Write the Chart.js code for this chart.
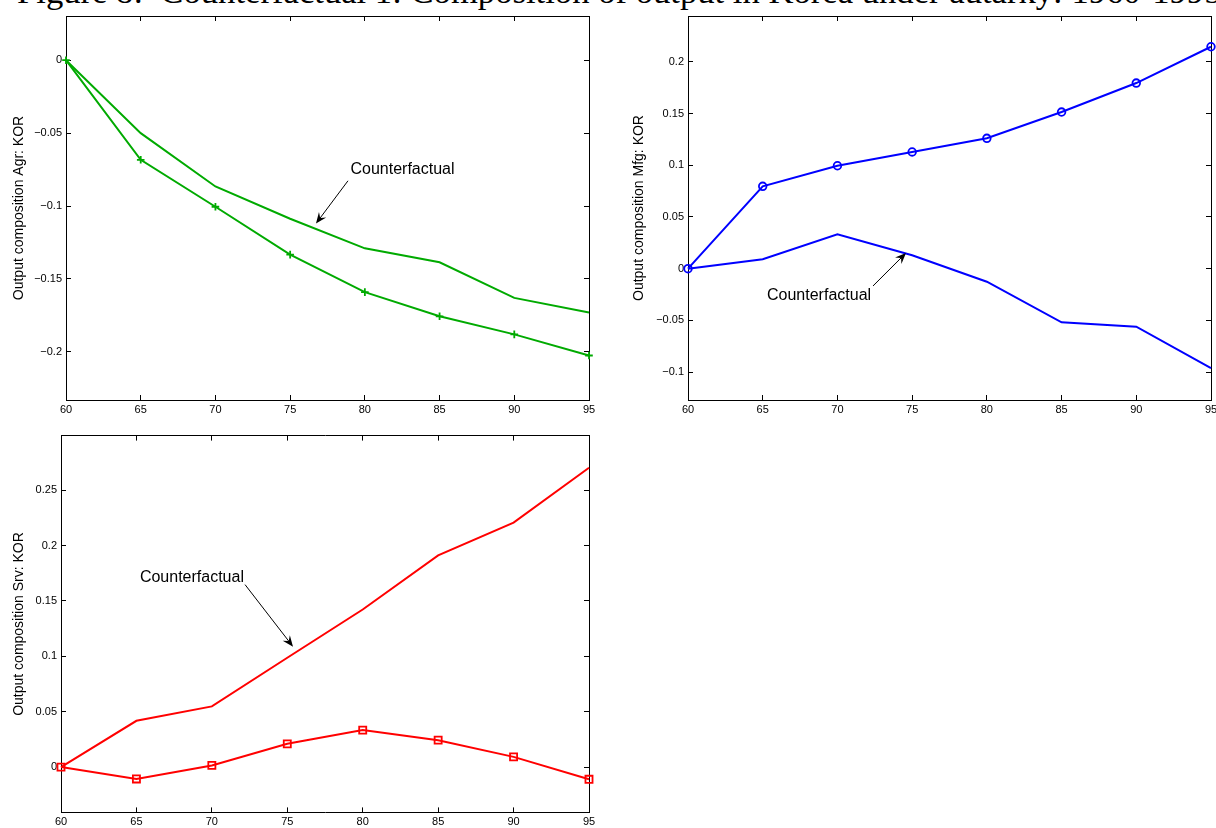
<!DOCTYPE html>
<html><head><meta charset="utf-8">
<script src="https://cdn.jsdelivr.net/npm/chart.js@4.4.1/dist/chart.umd.min.js"></script>
<style>
html,body{margin:0;padding:0;background:#fff;overflow:hidden;width:1216px;height:828px;position:relative;}
#title{position:absolute;left:17px;top:-16px;white-space:nowrap;font-family:"Liberation Serif","DejaVu Serif",serif;color:#000;font-size:27px;line-height:27px;}
.box{position:absolute;}
canvas{display:block;}
</style></head><body>
<div id="title">Figure 8:&nbsp; Counterfactual 1: Composition of output in Korea under autarky: 1960-1995</div>
<div class="box" style="left:0;top:0;"><canvas id="agr" width="610" height="425"></canvas></div>
<div class="box" style="left:620px;top:0;"><canvas id="mfg" width="620" height="425"></canvas></div>
<div class="box" style="left:0;top:420px;"><canvas id="srv" width="610" height="408"></canvas></div>
<script>
// ---- data ----
const years = [60, 65, 70, 75, 80, 85, 90, 95];
const xTicks = [60, 65, 70, 75, 80, 85, 90, 95];

const agrActual  = [0, -0.0683, -0.1005, -0.1333, -0.159, -0.1756, -0.188, -0.2025];
const agrCounter = [0, -0.050, -0.0866, -0.1087, -0.129, -0.1386, -0.163, -0.173];

const mfgActual  = [0, 0.0796, 0.0995, 0.1128, 0.126, 0.1514, 0.1794, 0.2145];
const mfgCounter = [0, 0.0091, 0.0332, 0.013, -0.0126, -0.0518, -0.056, -0.0962];

const srvActual  = [0, -0.0107, 0.0015, 0.021, 0.0334, 0.0243, 0.0092, -0.011];
const srvCounter = [0, 0.0418, 0.0548, 0.0987, 0.1422, 0.1911, 0.2207, 0.2702];

const agrYTicks = [0, -0.05, -0.1, -0.15, -0.2];
const mfgYTicks = [-0.1, -0.05, 0, 0.05, 0.1, 0.15, 0.2];
const srvYTicks = [0, 0.05, 0.1, 0.15, 0.2, 0.25];

const noteLabel = 'Counterfactual';

// ---- title sizing ----
(function(){
  const t = document.getElementById('title');
  const c = document.createElement('canvas').getContext('2d');
  c.font = '100px "Liberation Serif"';
  const m = c.measureText(t.textContent);
  const size = 100 * 1205 / m.width;
  const A = (m.fontBoundingBoxAscent || 89.1) / 100 * size;
  const D = (m.fontBoundingBoxDescent || 21.6) / 100 * size;
  t.style.fontSize = size + 'px';
  t.style.lineHeight = size + 'px';
  t.style.top = (3 - ((size - (A + D)) / 2 + A)) + 'px';
})();

// ---- helpers ----
const FONT = '"Liberation Sans", Arial, Helvetica, sans-serif';
function pts(ys){ return years.map((x, i) => ({x: x, y: ys[i]})); }
function fmt(v){ return String(+(+v).toFixed(3)).replace('-', '\u2212'); }

const notesPlugin = {
  id: 'notes',
  afterDatasetsDraw(chart, args, opts) {
    const xs = chart.scales.x, ys = chart.scales.y, ctx = chart.ctx;
    (opts.items || []).forEach(n => {
      ctx.save();
      ctx.fillStyle = '#000';
      ctx.strokeStyle = '#000';
      ctx.font = '16px ' + FONT;
      ctx.textAlign = 'center';
      ctx.textBaseline = 'middle';
      ctx.fillText(n.text, xs.getPixelForValue(n.tx), ys.getPixelForValue(n.ty));
      const x1 = xs.getPixelForValue(n.fx), y1 = ys.getPixelForValue(n.fy);
      const x2 = xs.getPixelForValue(n.ax), y2 = ys.getPixelForValue(n.ay);
      const ang = Math.atan2(y2 - y1, x2 - x1);
      const L = 11, W = 4.5, N = 7;
      ctx.lineWidth = 1;
      ctx.beginPath();
      ctx.moveTo(x1, y1);
      ctx.lineTo(x2 - Math.cos(ang) * N, y2 - Math.sin(ang) * N);
      ctx.stroke();
      ctx.beginPath();
      ctx.moveTo(x2, y2);
      ctx.lineTo(x2 - Math.cos(ang) * L + Math.sin(ang) * W, y2 - Math.sin(ang) * L - Math.cos(ang) * W);
      ctx.lineTo(x2 - Math.cos(ang) * N, y2 - Math.sin(ang) * N);
      ctx.lineTo(x2 - Math.cos(ang) * L - Math.sin(ang) * W, y2 - Math.sin(ang) * L + Math.cos(ang) * W);
      ctx.closePath();
      ctx.fill();
      ctx.restore();
    });
  }
};

function axisCommon(extra){
  return Object.assign({
    type: 'linear',
    grid: {drawOnChartArea: false, color: '#000', tickLength: -5, tickWidth: 1},
    border: {display: true, color: '#000', width: 1}
  }, extra);
}

function makeChart(id, o){
  const xt = s => { s.ticks = xTicks.map(v => ({value: v})); };
  const yt = s => { s.ticks = o.yTicks.map(v => ({value: v})); };
  const tickFont = {family: FONT, size: 11};
  return new Chart(document.getElementById(id), {
    type: 'line',
    data: {
      datasets: [
        {
          data: pts(o.actual), xAxisID: 'x', yAxisID: 'y',
          borderColor: o.color, borderWidth: 2, tension: 0, clip: false,
          pointStyle: o.marker, pointRadius: o.markerR, pointBorderWidth: 1.8,
          pointBorderColor: o.color, pointBackgroundColor: 'rgba(0,0,0,0)'
        },
        {
          data: pts(o.counter), xAxisID: 'x', yAxisID: 'y',
          borderColor: o.color, borderWidth: 2, tension: 0, clip: false,
          pointRadius: 0
        }
      ]
    },
    options: {
      responsive: false, animation: false, events: [], devicePixelRatio: 1,
      layout: {padding: o.pad},
      plugins: {legend: {display: false}, tooltip: {enabled: false},
                notes: {items: o.notes}},
      scales: {
        x: axisCommon({position: 'bottom', min: 60, max: 95, afterBuildTicks: xt,
          afterFit: s => { s.height = o.xH; },
          ticks: {padding: 8, font: tickFont, color: '#000', autoSkip: false, maxRotation: 0,
                  callback: v => String(v)}}),
        x2: axisCommon({position: 'top', min: 60, max: 95, afterBuildTicks: xt,
          afterFit: s => { s.height = 0; }, ticks: {display: false}}),
        y: axisCommon({position: 'left', min: o.yMin, max: o.yMax, afterBuildTicks: yt,
          afterFit: s => { s.width = o.yW; },
          ticks: {padding: 9, font: tickFont, color: '#000', callback: v => fmt(v)},
          title: {display: true, text: o.yTitle, color: '#000',
                  font: {family: FONT, size: 14}, padding: {top: 11, bottom: 0}}}),
        y2: axisCommon({position: 'right', min: o.yMin, max: o.yMax, afterBuildTicks: yt,
          afterFit: s => { s.width = 0; }, ticks: {display: false}})
      }
    },
    plugins: [notesPlugin]
  });
}

makeChart('agr', {
  actual: agrActual, counter: agrCounter, color: 'rgb(0,170,0)',
  marker: 'cross', markerR: 3.8, yTicks: agrYTicks,
  yMin: -0.233, yMax: 0.0303, yW: 66, xH: 25,
  pad: {top: 16, right: 21, left: 0, bottom: 0},
  yTitle: 'Output composition Agr: KOR',
  notes: [{text: noteLabel, tx: 82.52, ty: -0.0751, fx: 78.87, fy: -0.0827, ax: 76.73, ay: -0.112}]
});

makeChart('mfg', {
  actual: mfgActual, counter: mfgCounter, color: '#0000ff',
  marker: 'circle', markerR: 3.8, yTicks: mfgYTicks,
  yMin: -0.1269, yMax: 0.2442, yW: 68, xH: 25,
  pad: {top: 16, right: 29, left: 0, bottom: 0},
  yTitle: 'Output composition Mfg: KOR',
  notes: [{text: noteLabel, tx: 68.77, ty: -0.0264, fx: 72.38, fy: -0.0167, ax: 74.59, ay: 0.0152}]
});

makeChart('srv', {
  actual: srvActual, counter: srvCounter, color: '#ff0000',
  marker: 'rect', markerR: 5, yTicks: srvYTicks,
  yMin: -0.0409, yMax: 0.2992, yW: 61, xH: 14,
  pad: {top: 12, right: 21, left: 0, bottom: 0},
  yTitle: 'Output composition Srv: KOR',
  notes: [{text: noteLabel, tx: 68.68, ty: 0.1709, fx: 72.2, fy: 0.1647, ax: 75.38, ay: 0.1087}]
});
</script>
</body></html>
